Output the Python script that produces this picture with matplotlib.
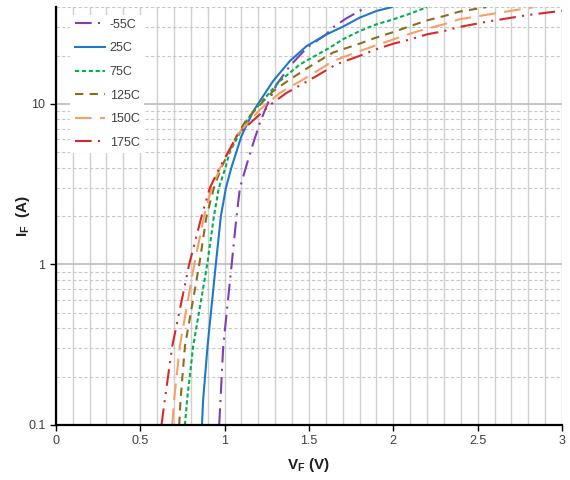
import matplotlib
matplotlib.use("Agg")
import matplotlib.pyplot as plt
from matplotlib.patches import Rectangle
from matplotlib.ticker import FixedLocator, NullFormatter, MultipleLocator

plt.rcParams["font.family"] = ["Liberation Sans", "DejaVu Sans"]
plt.rcParams["mathtext.fontset"] = "custom"
plt.rcParams["mathtext.rm"] = "Liberation Sans"
plt.rcParams["mathtext.bf"] = "Liberation Sans:bold"

# DATA
labels = ["-55C", "25C", "75C", "125C", "150C", "175C"]

vf_m55 = [0.968, 0.976, 0.992, 1.042, 1.071, 1.091, 1.14, 1.17, 1.209, 1.249, 1.308, 1.387, 1.49, 1.60, 1.644, 1.72, 1.80, 1.84]
if_m55 = [0.1, 0.144, 0.31, 1.0, 2.0, 3.0, 4.5, 5.7, 7.6, 9.7, 13.2, 17.2, 22.5, 27.0, 30.0, 34.0, 37.9, 40.0]

vf_25 = [0.866, 0.873, 0.899, 0.948, 0.978, 1.008, 1.04, 1.10, 1.17, 1.288, 1.387, 1.486, 1.605, 1.70, 1.80, 1.90, 1.99]
if_25 = [0.1, 0.144, 0.31, 1.0, 2.0, 3.0, 4.0, 6.3, 9.0, 13.9, 18.5, 22.9, 27.1, 30.2, 34.4, 37.9, 40.0]

vf_75 = [0.765, 0.778, 0.814, 0.897, 0.937, 0.966, 1.005, 1.03, 1.09, 1.15, 1.209, 1.328, 1.446, 1.624, 1.70, 1.80, 1.90, 2.0, 2.1, 2.2]
if_75 = [0.1, 0.144, 0.31, 1.0, 2.0, 3.0, 4.0, 5.0, 6.6, 8.4, 10.0, 13.9, 17.6, 22.4, 25.2, 28.4, 31.3, 33.6, 36.5, 40.0]

vf_125 = [0.731, 0.739, 0.765, 0.85, 0.893, 0.937, 0.98, 1.071, 1.13, 1.23, 1.288, 1.387, 1.525, 1.644, 1.80, 1.90, 2.0, 2.1, 2.2, 2.3, 2.39, 2.55]
if_125 = [0.1, 0.144, 0.31, 1.0, 2.0, 3.0, 4.0, 6.3, 8.0, 10.4, 12.0, 14.2, 17.6, 20.9, 23.7, 25.9, 28.0, 30.5, 33.1, 35.2, 37.5, 40.0]

vf_150 = [0.69, 0.701, 0.735, 0.82, 0.879, 0.923, 0.975, 1.08, 1.209, 1.328, 1.486, 1.644, 1.80, 1.90, 2.0, 2.1, 2.2, 2.3, 2.39, 2.61, 2.83]
if_150 = [0.1, 0.144, 0.31, 1.0, 2.0, 3.0, 4.0, 6.5, 9.2, 11.7, 14.6, 18.5, 21.3, 23.2, 25.2, 27.4, 29.4, 31.3, 33.6, 36.7, 40.0]

vf_175 = [0.626, 0.646, 0.69, 0.79, 0.864, 0.913, 0.97, 1.08, 1.288, 1.367, 1.545, 1.66, 1.80, 1.90, 2.0, 2.1, 2.2, 2.3, 2.39, 2.57, 2.81, 3.0]
if_175 = [0.1, 0.144, 0.31, 1.0, 2.0, 3.0, 4.0, 6.5, 10.2, 11.7, 14.9, 17.6, 19.9, 21.9, 23.7, 25.2, 27.1, 28.4, 30.1, 32.7, 35.9, 38.0]

x_ticks = [0, 0.5, 1, 1.5, 2, 2.5, 3]
x_ticklabels = ["0", "0.5", "1", "1.5", "2", "2.5", "3"]
y_ticks = [0.1, 1, 10]
y_ticklabels = ["0.1", "1", "10"]

series = [
    (vf_m55, if_m55, "#7B3FB8", (0, (8, 3, 1, 3))),
    (vf_25, if_25, "#1F78C8", "-"),
    (vf_75, if_75, "#00B050", (0, (2, 1.3))),
    (vf_125, if_125, "#8C6D1F", (0, (4, 3))),
    (vf_150, if_150, "#F4A068", (0, (8, 4))),
    (vf_175, if_175, "#D42A2A", (0, (8, 3, 1, 3, 1, 3))),
]

fig = plt.figure(figsize=(5.7, 4.8), dpi=100)
ax = fig.add_axes([0.098, 0.1146, 0.888, 0.8704])

for (vx, iy, col, ls), lab in zip(series, labels):
    ax.plot(vx, iy, color=col, linestyle=ls, linewidth=1.5, label=lab)

ax.set_yscale("log")
ax.set_xlim(0, 3)
ax.set_ylim(0.1, 40)

ax.xaxis.set_major_locator(FixedLocator(x_ticks))
ax.set_xticklabels(x_ticklabels)
ax.xaxis.set_minor_locator(MultipleLocator(0.1))
ax.yaxis.set_major_locator(FixedLocator(y_ticks))
ax.set_yticklabels(y_ticklabels)
minor_y = [m * d for d in [0.1, 1, 10] for m in range(2, 10) if m * d <= 40]
ax.yaxis.set_minor_locator(FixedLocator(minor_y))
ax.yaxis.set_minor_formatter(NullFormatter())

ax.grid(True, which="both", axis="x", color="#D0D0D0", linewidth=1.0)
ax.grid(True, which="major", axis="y", color="#C0C0C0", linewidth=1.3)
ax.grid(True, which="minor", axis="y", color="#C8C8C8", linewidth=0.8, linestyle=(0, (3, 2)))
ax.set_axisbelow(True)

ax.tick_params(which="major", direction="out", length=4, width=1, colors="black",
               labelcolor="#404040", labelsize=9)
ax.tick_params(which="minor", length=0)

for s in ["top", "right"]:
    ax.spines[s].set_visible(False)
for s in ["left", "bottom"]:
    ax.spines[s].set_linewidth(1.6)
    ax.spines[s].set_color("black")

ax.set_xlabel(r"$\mathbf{V_F}$ (V)", fontsize=11, fontweight="bold", color="#202020")
ax.set_ylabel(r"$\mathbf{I_F}$  (A)", fontsize=11, fontweight="bold", color="#202020")
ax.xaxis.set_label_coords(0.5, -0.075)
ax.yaxis.set_label_coords(-0.047, 0.5)

# white box behind the legend, hiding the grid like the original
ax.add_patch(Rectangle((0.0277, 0.651), 0.146, 0.33, transform=ax.transAxes,
                       facecolor="white", edgecolor="none", zorder=1.5))

leg = ax.legend(loc="upper left", bbox_to_anchor=(0.026, 0.986), fontsize=9,
                frameon=False, handlelength=2.4, labelspacing=0.93,
                handletextpad=0.4, borderpad=0.45, borderaxespad=0)
for t in leg.get_texts():
    t.set_color("#404040")

fig.savefig("out.png", dpi=100)
